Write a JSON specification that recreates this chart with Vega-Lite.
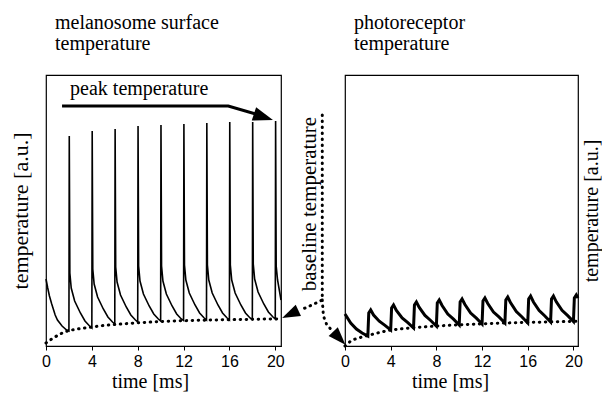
{
  "$schema": "https://vega.github.io/schema/vega-lite/v6.json",
  "background": "white",
  "padding": {"left": 8, "top": 12, "right": 0, "bottom": 0},
  "bounds": "flush",
  "spacing": 64,
  "config": {
    "view": {"stroke": "black", "strokeWidth": 1.2},
    "axis": {"grid": false, "labelFont": "Liberation Sans", "labelFontSize": 16, "labelColor": "black", "titleFont": "Liberation Serif", "titleFontSize": 20, "titleFontWeight": "normal", "titleColor": "black", "domainColor": "black", "tickColor": "black"},
    "title": {"font": "Liberation Serif", "fontSize": 20, "fontWeight": "normal", "color": "black", "anchor": "start", "frame": "group", "lineHeight": 21}
  },
  "datasets": {
    "melan": [
      {"t":0,"v":67},{"t":0.15,"v":58},{"t":0.3,"v":50},{"t":0.5,"v":42},{"t":0.8,"v":31},{"t":1.0,"v":26},{"t":1.4,"v":20},{"t":1.8,"v":16},{"t":2,"v":15},
      {"t":2.03,"v":210},{"t":2.08,"v":73},{"t":2.2,"v":58},{"t":2.5,"v":45},{"t":3.0,"v":33},{"t":3.4,"v":25},{"t":3.8,"v":20},{"t":4,"v":18},
      {"t":4.03,"v":215},{"t":4.08,"v":77},{"t":4.2,"v":62},{"t":4.5,"v":49},{"t":5.0,"v":37},{"t":5.4,"v":29},{"t":5.8,"v":24},{"t":6,"v":22},
      {"t":6.03,"v":217},{"t":6.08,"v":79},{"t":6.2,"v":64},{"t":6.5,"v":51},{"t":7.0,"v":39},{"t":7.4,"v":31},{"t":7.8,"v":26},{"t":8,"v":24},
      {"t":8.03,"v":220},{"t":8.08,"v":80},{"t":8.2,"v":65},{"t":8.5,"v":52},{"t":9.0,"v":40},{"t":9.4,"v":32},{"t":9.8,"v":27},{"t":10,"v":25},
      {"t":10.03,"v":221},{"t":10.08,"v":80},{"t":10.2,"v":65},{"t":10.5,"v":52},{"t":11.0,"v":40},{"t":11.4,"v":32},{"t":11.8,"v":27},{"t":12,"v":25.5},
      {"t":12.03,"v":222},{"t":12.08,"v":81},{"t":12.2,"v":66},{"t":12.5,"v":53},{"t":13.0,"v":41},{"t":13.4,"v":33},{"t":13.8,"v":28},{"t":14,"v":26},
      {"t":14.03,"v":223},{"t":14.08,"v":81},{"t":14.2,"v":66},{"t":14.5,"v":53},{"t":15.0,"v":41},{"t":15.4,"v":33},{"t":15.8,"v":28},{"t":16,"v":26},
      {"t":16.03,"v":224},{"t":16.08,"v":81},{"t":16.2,"v":66},{"t":16.5,"v":53},{"t":17.0,"v":41},{"t":17.4,"v":33},{"t":17.8,"v":28},{"t":18,"v":26.5},
      {"t":18.03,"v":224},{"t":18.08,"v":82},{"t":18.2,"v":67},{"t":18.5,"v":54},{"t":19.0,"v":42},{"t":19.4,"v":34},{"t":19.8,"v":29},{"t":20,"v":27},
      {"t":20.03,"v":225},{"t":20.08,"v":80},{"t":20.2,"v":66},{"t":20.5,"v":46}
    ],
    "melbase": [
      {"t":0,"v":3},{"t":0.5,"v":7},{"t":1,"v":10.5},{"t":1.5,"v":13.5},{"t":2,"v":15.5},{"t":3,"v":17.5},{"t":4,"v":19},{"t":5,"v":20.5},{"t":6,"v":21.5},{"t":8,"v":23.2},{"t":10,"v":24.5},{"t":12,"v":25.3},{"t":14,"v":25.9},{"t":16,"v":26.3},{"t":18,"v":26.7},{"t":20.5,"v":27.2}
    ],
    "photo": [
      {"t":0,"v":32},{"t":0.5,"v":23},{"t":1.0,"v":17},{"t":1.5,"v":13},{"t":2,"v":10},
      {"t":2.08,"v":33},{"t":2.25,"v":36},{"t":2.5,"v":31},{"t":3.0,"v":24.8},{"t":3.5,"v":20.6},{"t":4,"v":16},
      {"t":4.08,"v":38},{"t":4.25,"v":41},{"t":4.5,"v":35.5},{"t":5.0,"v":28.1},{"t":5.5,"v":23.3},{"t":6,"v":18},
      {"t":6.08,"v":41},{"t":6.25,"v":44},{"t":6.5,"v":38.5},{"t":7.0,"v":30.6},{"t":7.5,"v":25.5},{"t":8,"v":20},
      {"t":8.08,"v":43},{"t":8.25,"v":46},{"t":8.5,"v":40.5},{"t":9.0,"v":32},{"t":9.5,"v":26.8},{"t":10,"v":21},
      {"t":10.08,"v":44},{"t":10.25,"v":47},{"t":10.5,"v":41.5},{"t":11.0,"v":33},{"t":11.5,"v":27.8},{"t":12,"v":22},
      {"t":12.08,"v":45},{"t":12.25,"v":48},{"t":12.5,"v":42.5},{"t":13.0,"v":34},{"t":13.5,"v":28.8},{"t":14,"v":23},
      {"t":14.08,"v":46},{"t":14.25,"v":49},{"t":14.5,"v":43.2},{"t":15.0,"v":34.4},{"t":15.5,"v":29},{"t":16,"v":23},
      {"t":16.08,"v":47},{"t":16.25,"v":50},{"t":16.5,"v":44},{"t":17.0,"v":35.4},{"t":17.5,"v":30},{"t":18,"v":24},
      {"t":18.08,"v":47},{"t":18.25,"v":50},{"t":18.5,"v":44.2},{"t":19.0,"v":35.7},{"t":19.5,"v":30.4},{"t":20,"v":24.5},
      {"t":20.08,"v":48},{"t":20.25,"v":51},{"t":20.4,"v":48}
    ],
    "photobase": [
      {"t":0,"v":0},{"t":0.5,"v":5},{"t":1,"v":7.5},{"t":2,"v":10.5},{"t":3,"v":13.5},{"t":4,"v":16},{"t":5,"v":17.3},{"t":6,"v":18.3},{"t":8,"v":20},{"t":10,"v":21.2},{"t":12,"v":22.2},{"t":14,"v":23},{"t":16,"v":23.6},{"t":18,"v":24.1},{"t":20.4,"v":24.7}
    ],
    "peakline": [
      {"i":0,"t":1.4,"v":240},{"i":1,"t":15.9,"v":240},{"i":2,"t":18.3,"v":232}
    ],
    "peakhead": [{"t":19.8,"v":226}],
    "peaktext": [{"t":2.1,"v":251,"label":"peak temperature"}],
    "baseline": [
      {"seg":"a","i":0,"t":24.1,"v":231},{"seg":"a","i":1,"t":24.1,"v":46},{"seg":"a","i":2,"t":23.2,"v":41},{"seg":"a","i":3,"t":22.2,"v":36},
      {"seg":"b","i":0,"t":24.1,"v":46},{"seg":"b","i":1,"t":24.2,"v":30},{"seg":"b","i":2,"t":24.5,"v":21},{"seg":"b","i":3,"t":25.0,"v":15}
    ],
    "basehead1": [{"t":20.6,"v":28}],
    "basehead2": [{"t":26.12,"v":1.3}],
    "basetext": [{"t":23.56,"v":142,"label":"baseline temperature"}]
  },
  "hconcat": [
    {
      "width": 235,
      "height": 271,
      "title": {"text": ["melanosome surface", "temperature"], "dx": 9, "offset": 21},
      "layer": [
        {
          "data": {"name": "melan"},
          "mark": {"type": "line", "color": "black", "strokeWidth": 1.6},
          "encoding": {
            "x": {"field": "t", "type": "quantitative", "scale": {"domain": [0, 20.5], "nice": false, "zero": false},
                  "axis": {"values": [0, 4, 8, 12, 16, 20], "title": "time [ms]", "tickSize": 4, "labelPadding": 3, "labelFlush": false, "titlePadding": 2, "titleX": 104, "titleAlign": "center"}},
            "y": {"field": "v", "type": "quantitative", "scale": {"domain": [0, 271], "nice": false},
                  "axis": {"title": "temperature [a.u.]", "titleFontSize": 22, "labels": false, "ticks": false, "domain": false, "titlePadding": 14}}
          }
        },
        {
          "data": {"name": "melbase"},
          "mark": {"type": "line", "color": "black", "strokeWidth": 3, "strokeDash": [0.5, 5.5], "strokeCap": "round"},
          "encoding": {"x": {"field": "t", "type": "quantitative"}, "y": {"field": "v", "type": "quantitative"}}
        },
        {
          "data": {"name": "peakline"},
          "mark": {"type": "line", "color": "black", "strokeWidth": 3},
          "encoding": {"x": {"field": "t", "type": "quantitative"}, "y": {"field": "v", "type": "quantitative"}, "order": {"field": "i"}}
        },
        {
          "data": {"name": "peakhead"},
          "mark": {"type": "point", "shape": "M0,0L-2,-0.7L-2,0.7Z", "filled": true, "color": "black", "opacity": 1, "size": 400, "angle": 18, "strokeWidth": 0},
          "encoding": {"x": {"field": "t", "type": "quantitative"}, "y": {"field": "v", "type": "quantitative"}}
        },
        {
          "data": {"name": "peaktext"},
          "mark": {"type": "text", "font": "Liberation Serif", "fontSize": 20, "align": "left", "baseline": "alphabetic", "color": "black"},
          "encoding": {"x": {"field": "t", "type": "quantitative"}, "y": {"field": "v", "type": "quantitative"}, "text": {"field": "label"}}
        },
        {
          "data": {"name": "baseline"},
          "mark": {"type": "line", "color": "black", "strokeWidth": 3, "strokeDash": [0.5, 5.5], "strokeCap": "round"},
          "encoding": {"x": {"field": "t", "type": "quantitative"}, "y": {"field": "v", "type": "quantitative"}, "detail": {"field": "seg"}, "order": {"field": "i"}}
        },
        {
          "data": {"name": "basehead1"},
          "mark": {"type": "point", "shape": "M0,0L-2,-0.7L-2,0.7Z", "filled": true, "color": "black", "opacity": 1, "size": 320, "angle": 155, "strokeWidth": 0},
          "encoding": {"x": {"field": "t", "type": "quantitative"}, "y": {"field": "v", "type": "quantitative"}}
        },
        {
          "data": {"name": "basehead2"},
          "mark": {"type": "point", "shape": "M0,0L-2,-0.7L-2,0.7Z", "filled": true, "color": "black", "opacity": 1, "size": 320, "angle": 47, "strokeWidth": 0},
          "encoding": {"x": {"field": "t", "type": "quantitative"}, "y": {"field": "v", "type": "quantitative"}}
        },
        {
          "data": {"name": "basetext"},
          "mark": {"type": "text", "font": "Liberation Serif", "fontSize": 21, "align": "center", "baseline": "alphabetic", "angle": 270, "color": "black"},
          "encoding": {"x": {"field": "t", "type": "quantitative"}, "y": {"field": "v", "type": "quantitative"}, "text": {"field": "label"}}
        }
      ]
    },
    {
      "width": 233,
      "height": 271,
      "title": {"text": ["photoreceptor", "temperature"], "dx": 9, "offset": 21},
      "layer": [
        {
          "data": {"name": "photo"},
          "mark": {"type": "line", "color": "black", "strokeWidth": 3},
          "encoding": {
            "x": {"field": "t", "type": "quantitative", "scale": {"domain": [0, 20.4], "nice": false, "zero": false},
                  "axis": {"values": [0, 4, 8, 12, 16, 20], "title": "time [ms]", "tickSize": 4, "labelPadding": 3, "labelFlush": false, "titlePadding": 2, "titleX": 105, "titleAlign": "center"}},
            "y": {"field": "v", "type": "quantitative", "scale": {"domain": [0, 271], "nice": false},
                  "axis": {"orient": "right", "title": "temperature [a.u.]", "titleFontSize": 20, "titleAngle": 270, "titleBaseline": "top", "labels": false, "ticks": false, "domain": false, "titlePadding": 3}}
          }
        },
        {
          "data": {"name": "photobase"},
          "mark": {"type": "line", "color": "black", "strokeWidth": 3, "strokeDash": [0.5, 5.5], "strokeCap": "round"},
          "encoding": {"x": {"field": "t", "type": "quantitative"}, "y": {"field": "v", "type": "quantitative"}}
        }
      ]
    }
  ]
}
